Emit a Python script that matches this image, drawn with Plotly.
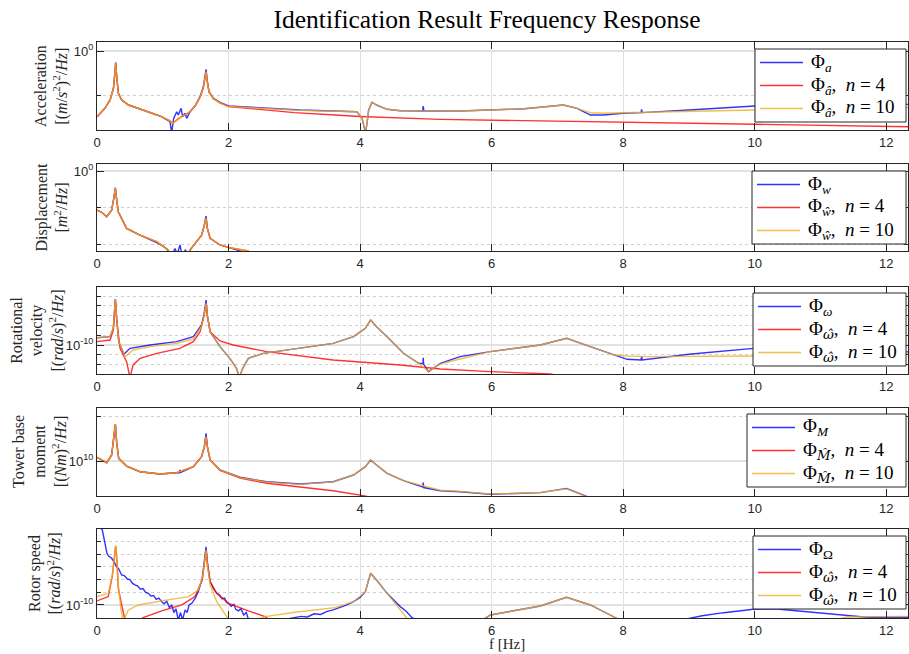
import numpy as np
import plotly.graph_objects as go

# ---------------- data (frequency in Hz, PSD as log10 value) ----------------
# Panel 1: Acceleration
acc_f_meas = [0.0, 0.12, 0.2, 0.25, 0.274, 0.284, 0.30, 0.325, 0.375, 0.48, 0.73, 0.98, 1.11, 1.135, 1.166, 1.212, 1.237, 1.278, 1.303, 1.338, 1.364, 1.414, 1.49, 1.567, 1.617, 1.643, 1.658, 1.678, 1.703, 1.769, 1.871, 2.0, 3.09, 3.95, 4.03, 4.08, 4.1, 4.13, 4.18, 4.25, 4.41, 4.61, 4.95, 4.96, 4.97, 5.52, 5.98, 6.5, 7.09, 7.3, 7.5, 7.7, 8.0, 8.27, 8.28, 8.29, 9.0, 10.0, 11.0, 12.33]
acc_meas = [-5.97, -5.21, -4.45, -3.39, -1.88, -1.06, -2.34, -3.85, -4.45, -4.91, -5.43, -5.97, -6.43, -7.4, -6.12, -5.52, -5.82, -5.21, -5.97, -5.66, -6.12, -5.52, -5.0, -4.15, -3.25, -2.18, -1.66, -2.79, -3.70, -4.30, -4.66, -5.0, -5.36, -5.52, -6.12, -7.4, -6.8, -5.36, -4.66, -4.91, -5.3, -5.43, -5.45, -5.0, -5.45, -5.45, -5.36, -5.25, -4.91, -5.21, -5.82, -5.82, -5.66, -5.6, -5.3, -5.6, -5.36, -5.0, -4.9, -4.85]
acc_f_n4 = [0.0, 0.12, 0.2, 0.25, 0.274, 0.284, 0.30, 0.325, 0.375, 0.48, 0.73, 0.98, 1.11, 1.15, 1.25, 1.414, 1.49, 1.567, 1.617, 1.643, 1.658, 1.678, 1.703, 1.769, 1.871, 2.0, 2.5, 3.0, 3.62, 4.0, 5.22, 7.0, 10.0, 12.33]
acc_n4 = [-5.97, -5.21, -4.45, -3.39, -1.88, -1.06, -2.34, -3.85, -4.45, -4.91, -5.43, -5.97, -6.35, -6.57, -6.1, -5.52, -5.0, -4.2, -3.35, -2.45, -1.88, -2.85, -3.72, -4.35, -4.72, -5.05, -5.35, -5.6, -5.82, -5.95, -6.21, -6.4, -6.66, -6.88]
acc_f_n10 = [0.0, 0.12, 0.2, 0.25, 0.274, 0.284, 0.30, 0.325, 0.375, 0.48, 0.73, 0.98, 1.11, 1.15, 1.25, 1.414, 1.49, 1.567, 1.617, 1.643, 1.658, 1.678, 1.703, 1.769, 1.871, 2.0, 3.09, 3.95, 4.03, 4.08, 4.1, 4.13, 4.18, 4.25, 4.41, 4.61, 5.52, 5.98, 6.5, 7.09, 7.3, 7.5, 7.7, 8.0, 9.0, 10.0, 12.33]
acc_n10 = [-5.97, -5.21, -4.45, -3.39, -1.88, -1.06, -2.34, -3.85, -4.45, -4.91, -5.43, -5.97, -6.35, -6.57, -6.1, -5.52, -5.0, -4.2, -3.35, -2.45, -1.88, -2.85, -3.72, -4.35, -4.72, -5.05, -5.4, -5.52, -6.12, -7.4, -6.8, -5.36, -4.66, -4.91, -5.3, -5.43, -5.45, -5.36, -5.25, -4.91, -5.21, -5.61, -5.66, -5.61, -5.48, -5.36, -5.15]

# Panel 2: Displacement
disp_f_meas = [0.0, 0.07, 0.147, 0.223, 0.259, 0.279, 0.30, 0.324, 0.45, 0.654, 0.908, 1.0, 1.07, 1.1, 1.14, 1.186, 1.22, 1.262, 1.29, 1.313, 1.345, 1.364, 1.385, 1.42, 1.45, 1.516, 1.59, 1.632, 1.658, 1.678, 1.72, 1.87, 2.02, 2.18, 2.2]
disp_meas = [-2.14, -2.26, -2.5, -2.14, -1.41, -0.92, -1.59, -2.23, -3.14, -3.51, -3.92, -4.1, -4.3, -4.6, -4.6, -4.24, -4.55, -4.05, -4.6, -4.6, -4.3, -4.6, -4.6, -4.3, -4.15, -3.87, -3.51, -2.96, -2.47, -3.14, -3.69, -4.05, -4.2, -4.38, -4.6]
disp_f_n4 = [0.0, 0.07, 0.147, 0.223, 0.259, 0.279, 0.30, 0.324, 0.45, 0.654, 0.908, 1.085, 1.12, 1.38, 1.414, 1.516, 1.59, 1.632, 1.658, 1.678, 1.72, 1.87, 2.02, 2.3, 2.35]
disp_n4 = [-2.14, -2.26, -2.5, -2.14, -1.41, -0.92, -1.59, -2.23, -3.14, -3.51, -3.87, -4.33, -4.6, -4.6, -4.33, -3.87, -3.51, -2.96, -2.59, -3.14, -3.69, -4.05, -4.2, -4.38, -4.6]
disp_f_n10 = [0.0, 0.07, 0.147, 0.223, 0.259, 0.279, 0.30, 0.324, 0.45, 0.654, 0.908, 1.085, 1.12, 1.38, 1.414, 1.516, 1.59, 1.632, 1.658, 1.678, 1.72, 1.87, 2.02, 2.3, 2.35]
disp_n10 = [-2.14, -2.26, -2.5, -2.14, -1.41, -0.92, -1.59, -2.23, -3.14, -3.51, -3.87, -4.33, -4.6, -4.6, -4.33, -3.87, -3.51, -2.96, -2.59, -3.14, -3.69, -4.05, -4.2, -4.38, -4.6]

# Panel 3: Rotational velocity
rot_f_meas = [0.0, 0.198, 0.248, 0.279, 0.299, 0.33, 0.41, 0.50, 0.806, 1.21, 1.465, 1.59, 1.63, 1.658, 1.678, 1.72, 1.87, 2.02, 2.12, 2.165, 2.215, 2.3, 2.53, 3.09, 3.59, 3.90, 4.08, 4.16, 4.25, 4.41, 4.66, 4.89, 4.955, 4.96, 4.965, 5.04, 5.17, 5.22, 5.52, 5.98, 6.74, 7.14, 7.5, 7.85, 8.06, 8.27, 8.28, 8.29, 9.0, 9.98, 11.0, 12.33]
rot_meas = [-9.26, -9.15, -8.30, -5.31, -7.27, -9.66, -10.95, -10.34, -10.0, -9.66, -9.15, -7.96, -6.77, -5.41, -6.94, -8.64, -10.17, -11.36, -12.38, -13.3, -12.38, -11.36, -10.85, -10.34, -9.83, -9.15, -8.30, -7.45, -8.13, -9.15, -10.85, -11.87, -11.9, -11.3, -11.95, -12.72, -12.11, -11.87, -11.19, -10.68, -10.0, -9.31, -10.17, -11.02, -11.46, -11.53, -11.2, -11.53, -10.95, -10.34, -10.3, -10.7]
rot_f_n4 = [0.0, 0.198, 0.248, 0.279, 0.299, 0.35, 0.45, 0.50, 0.55, 0.654, 0.91, 1.26, 1.465, 1.567, 1.63, 1.658, 1.678, 1.72, 1.87, 2.07, 2.58, 3.59, 4.61, 5.22, 5.98, 6.89, 7.0]
rot_n4 = [-9.66, -9.49, -8.5, -5.31, -7.4, -10.34, -11.7, -13.3, -12.04, -11.36, -10.85, -10.34, -9.66, -8.64, -6.94, -5.74, -7.11, -8.64, -9.59, -10.0, -10.68, -11.53, -12.04, -12.45, -12.72, -12.96, -13.1]
rot_f_n10 = [0.0, 0.198, 0.248, 0.279, 0.299, 0.33, 0.426, 0.55, 0.806, 1.21, 1.465, 1.59, 1.63, 1.658, 1.678, 1.72, 1.87, 2.02, 2.12, 2.165, 2.215, 2.3, 2.53, 3.09, 3.59, 3.90, 4.08, 4.16, 4.25, 4.41, 4.66, 4.89, 5.04, 5.17, 5.22, 5.52, 5.98, 6.74, 7.14, 7.5, 7.85, 8.06, 8.36, 9.98, 12.33]
rot_n10 = [-9.26, -9.15, -8.30, -5.31, -7.27, -9.66, -11.19, -10.51, -10.17, -9.83, -9.39, -8.1, -6.9, -5.74, -6.94, -8.64, -10.17, -11.36, -12.38, -13.3, -12.38, -11.36, -10.85, -10.34, -9.83, -9.15, -8.30, -7.45, -8.13, -9.15, -10.85, -11.87, -12.72, -12.11, -11.95, -11.43, -10.68, -10.0, -9.31, -10.17, -11.0, -11.12, -11.19, -11.12, -10.92]

# Panel 4: Tower base moment
mom_f_meas = [0.0, 0.147, 0.223, 0.259, 0.279, 0.30, 0.33, 0.45, 0.654, 0.958, 1.21, 1.255, 1.262, 1.27, 1.465, 1.59, 1.632, 1.658, 1.678, 1.72, 1.87, 2.175, 2.58, 3.09, 3.59, 3.9, 4.08, 4.16, 4.25, 4.41, 4.66, 4.955, 4.96, 4.965, 5.22, 5.52, 5.98, 6.74, 7.14, 7.4, 7.5]
mom_meas = [10.41, 9.81, 10.67, 12.70, 14.11, 11.96, 10.3, 9.44, 8.81, 8.56, 8.70, 8.72, 9.0, 8.72, 9.37, 10.48, 11.59, 13.08, 11.59, 10.11, 9.0, 8.19, 7.70, 7.44, 7.70, 8.44, 9.37, 10.11, 9.56, 8.63, 7.81, 7.1, 7.6, 7.05, 6.70, 6.59, 6.30, 6.48, 6.96, 6.22, 5.9]
mom_f_n4 = [0.0, 0.147, 0.223, 0.259, 0.279, 0.30, 0.33, 0.45, 0.654, 0.958, 1.21, 1.465, 1.59, 1.632, 1.658, 1.678, 1.72, 1.87, 2.175, 2.58, 3.09, 3.59, 4.05, 4.2]
mom_n4 = [10.41, 9.81, 10.67, 12.70, 14.11, 11.96, 10.3, 9.44, 8.81, 8.56, 8.70, 9.37, 10.48, 11.59, 12.70, 11.59, 10.11, 8.95, 8.1, 7.52, 7.1, 6.70, 6.15, 5.9]
mom_f_n10 = [0.0, 0.147, 0.223, 0.259, 0.279, 0.30, 0.33, 0.45, 0.654, 0.958, 1.21, 1.465, 1.59, 1.632, 1.658, 1.678, 1.72, 1.87, 2.175, 2.58, 3.09, 3.59, 3.9, 4.08, 4.16, 4.25, 4.41, 4.66, 5.22, 5.52, 5.98, 6.74, 7.14, 7.4, 7.45]
mom_n10 = [10.41, 9.81, 10.67, 12.70, 14.11, 11.96, 10.3, 9.44, 8.81, 8.56, 8.70, 9.37, 10.48, 11.59, 12.70, 11.59, 10.11, 9.0, 8.15, 7.65, 7.40, 7.68, 8.44, 9.37, 10.11, 9.56, 8.63, 7.81, 6.75, 6.62, 6.33, 6.5, 6.9, 6.15, 5.9]

# Panel 5: Rotor speed
rs_f_meas = [0.0, 0.03, 0.081, 0.122, 0.15, 0.172, 0.223, 0.26, 0.299, 0.33,
             0.375, 0.42, 0.46, 0.5, 0.54, 0.578, 0.62, 0.66, 0.7, 0.74,
             0.78, 0.82, 0.86, 0.9, 0.94, 0.984, 1.02, 1.06, 1.1, 1.136,
             1.17, 1.2, 1.237, 1.27, 1.3, 1.34, 1.37, 1.4, 1.44, 1.49,
             1.54, 1.60, 1.632, 1.658, 1.678, 1.72, 1.77, 1.82, 1.86, 1.9,
             1.94, 1.97, 2.0, 2.04, 2.08, 2.11, 2.15, 2.19, 2.23, 2.27,
             2.30, 2.35, 2.6, 2.94, 3.1, 3.2, 3.3, 3.4, 3.5, 3.59,
             3.7, 3.8, 3.9, 4.0, 4.08, 4.16, 4.25, 4.41, 4.5, 4.61,
             4.7, 4.79, 4.9, 5.83, 5.98, 6.74, 7.14, 7.5, 7.9, 8.0,
             8.97, 9.2, 9.53, 9.98, 10.3, 10.64, 11.3, 11.7, 12.33]
rs_meas = [-3.5, -3.75, -4.08, -5.13, -5.9, -6.11, -6.31, -6.6, -6.98, -7.15,
           -7.63, -7.7, -7.95, -8.0, -8.3, -8.42, -8.5, -8.75, -8.7, -9.0,
           -9.08, -9.3, -9.25, -9.55, -9.45, -9.74, -9.9, -9.7, -10.2, -10.0,
           -10.6, -10.3, -11.2, -10.6, -11.2, -10.39, -10.6, -10.0, -9.87, -9.5,
           -8.95, -7.89, -6.58, -5.40, -6.58, -8.16, -8.7, -9.08, -9.2, -9.5,
           -9.45, -9.8, -9.87, -10.1, -9.95, -10.35, -10.47, -10.3, -10.8, -10.6,
           -11.1, -11.2, -11.4, -11.1, -10.9, -10.95, -10.7, -10.75, -10.5, -10.39,
           -10.2, -10.0, -9.74, -9.4, -8.95, -7.50, -8.03, -9.08, -9.55, -10.13,
           -10.5, -11.0, -11.3, -11.3, -10.79, -10.08, -9.39, -10.0, -11.05, -11.3,
           -11.1, -10.85, -10.61, -10.34, -10.3, -10.45, -10.79, -10.97, -10.97]
rs_f_n4 = [0.0, 0.172, 0.233, 0.264, 0.284, 0.304, 0.324, 0.375, 0.43, 0.6, 0.7, 0.984, 1.29, 1.49, 1.60, 1.632, 1.658, 1.678, 1.72, 1.82, 2.0, 2.30, 2.555, 2.65]
rs_n4 = [-9.68, -9.34, -7.7, -6.05, -5.32, -6.58, -8.68, -10.0, -11.3, -11.5, -11.0, -10.47, -10.0, -9.34, -8.03, -6.71, -5.66, -6.84, -8.16, -9.08, -9.87, -10.47, -10.92, -11.3]
rs_f_n10 = [0.0, 0.172, 0.233, 0.264, 0.284, 0.304, 0.324, 0.365, 0.40, 0.477,
            0.63, 0.984, 1.39, 1.54, 1.60, 1.632, 1.658, 1.678, 1.72, 1.82,
            1.92, 2.02, 2.3, 2.555, 3.01, 3.62, 3.9, 4.08, 4.16, 4.25,
            4.41, 4.61, 4.72, 4.9, 5.83, 5.98, 6.74, 7.14, 7.5, 7.9,
            8.0, 11.2, 11.4, 11.8, 12.33]
rs_n10 = [-9.34, -9.08, -7.63, -6.05, -5.32, -6.58, -8.42, -10.39, -11.3, -10.39,
          -10.0, -9.68, -9.34, -8.82, -7.89, -6.71, -5.66, -6.84, -8.42, -9.74,
          -10.53, -11.3, -11.4, -10.92, -10.58, -10.21, -9.74, -8.95, -7.50, -8.03,
          -9.08, -10.35, -11.1, -11.4, -11.3, -10.79, -10.08, -9.39, -10.0, -11.05,
          -11.3, -11.2, -10.95, -10.92, -10.9]

# legend labels
NB = "\u00a0"
HAT = lambda s: "<span style='font-family:DejaVu Serif'><i>" + s + "\u0302</i></span>"
N4 = "," + NB + NB + "<i>n</i>" + NB + "=" + NB + "4"
N10 = "," + NB + NB + "<i>n</i>" + NB + "=" + NB + "10"
leg_acc = ["Φ<sub><i>a</i></sub>", "Φ<sub><i>â</i></sub>" + N4, "Φ<sub><i>â</i></sub>" + N10]
leg_disp = ["Φ<sub><i>w</i></sub>", "Φ<sub><i>ŵ</i></sub>" + N4, "Φ<sub><i>ŵ</i></sub>" + N10]
leg_rot = ["Φ<sub><i>ω</i></sub>", "Φ<sub>" + HAT("ω") + "</sub>" + N4, "Φ<sub>" + HAT("ω") + "</sub>" + N10]
leg_mom = ["Φ<sub><i>M</i></sub>", "Φ<sub>" + HAT("M") + "</sub>" + N4, "Φ<sub>" + HAT("M") + "</sub>" + N10]
leg_rs = ["Φ<sub>Ω</sub>", "Φ<sub>" + HAT("ω") + "</sub>" + N4, "Φ<sub>" + HAT("ω") + "</sub>" + N10]

ylabels = [
    "Acceleration<br>[(<i>m</i>/<i>s</i><sup>2</sup>)<sup>2</sup>/<i>Hz</i>]",
    "Displacement<br>[<i>m</i><sup>2</sup>/<i>Hz</i>]",
    "Rotational<br>velocity<br>[(<i>rad</i>/<i>s</i>)<sup>2</sup>/<i>Hz</i>]",
    "Tower base<br>moment<br>[(<i>Nm</i>)<sup>2</sup>/<i>Hz</i>]",
    "Rotor speed<br>[(<i>rad</i>/<i>s</i>)<sup>2</sup>/<i>Hz</i>]",
]
xticks = [0, 2, 4, 6, 8, 10, 12]

# ---------------- figure ----------------
W, H = 909, 654
ML, MR, MT, MB = 97, 1, 42, 36
PW, PH = W - ML - MR, H - MT - MB
px_top = [42, 164, 287, 408, 529]
px_bot = [130, 251, 374, 496, 618]
leg_top = [49, 171, 293, 414, 536]
leg_left = [755, 752, 753, 747, 753]
label_x = [52, 52, 37, 40, 45]

def py2paper(py):
    return (H - MB - py) / PH

def px2paper(px):
    return (px - ML) / PW

yconf = [
    dict(range=[-7.18, 0.818], tv=[1e0], tt=["10<sup>0</sup>"], minor=[1e-4]),
    dict(range=[-4.38, 0.384], tv=[1e0], tt=["10<sup>0</sup>"], minor=[1e-2, 1e-4]),
    dict(range=[-12.96, -4.08], tv=[1e-10], tt=["10<sup>-10</sup>"],
         minor=[1e-12, 1e-11, 1e-9, 1e-8, 1e-7, 1e-6, 1e-5]),
    dict(range=[6.11, 15.89], tv=[1e10], tt=["10<sup>10</sup>"], minor=[1e15]),
    dict(range=[-11.03, -4.0], tv=[1e-10], tt=["10<sup>-10</sup>"],
         minor=[1e-9, 1e-8, 1e-7, 1e-6, 1e-5]),
]

panels = [
    (acc_f_meas, acc_meas, acc_f_n4, acc_n4, acc_f_n10, acc_n10, leg_acc),
    (disp_f_meas, disp_meas, disp_f_n4, disp_n4, disp_f_n10, disp_n10, leg_disp),
    (rot_f_meas, rot_meas, rot_f_n4, rot_n4, rot_f_n10, rot_n10, leg_rot),
    (mom_f_meas, mom_meas, mom_f_n4, mom_n4, mom_f_n10, mom_n10, leg_mom),
    (rs_f_meas, rs_meas, rs_f_n4, rs_n4, rs_f_n10, rs_n10, leg_rs),
]

COLORS = ["#0000FF", "#FF0000", "#EDB120"]
OPAC = 0.8
LW = 1.4
AX = "#262626"
GRID = "#E1E1E1"
MINOR_GRID = "#CFCFCF"
SERIF = "Liberation Serif"
SANS = "Liberation Sans"

fig = go.Figure()
layout = dict(
    width=W, height=H,
    margin=dict(l=ML, r=MR, t=MT, b=MB, pad=0),
    paper_bgcolor="white", plot_bgcolor="white",
    showlegend=False,
    title=dict(text="Identification Result Frequency Response",
               font=dict(family=SERIF, size=25.5, color="black"),
               x=487 / W, xref="container", xanchor="center",
               y=1 - 19 / H, yref="container", yanchor="middle"),
    annotations=[], shapes=[],
)

for i, (fm, ym, f4, y4, f10, y10, names) in enumerate(panels):
    k = "" if i == 0 else str(i + 1)
    for (fx, yy, col, nm) in [(fm, ym, COLORS[0], names[0]),
                              (f4, y4, COLORS[1], names[1]),
                              (f10, y10, COLORS[2], names[2])]:
        assert len(fx) == len(yy), (nm, len(fx), len(yy))
        fig.add_trace(go.Scatter(
            x=fx, y=10 ** np.array(yy, dtype=float), mode="lines",
            line=dict(color=col, width=LW), opacity=OPAC,
            name=nm, xaxis="x" + k, yaxis="y" + k, hoverinfo="skip"))
    dom = [py2paper(px_bot[i]), py2paper(px_top[i])]
    layout["xaxis" + k] = dict(
        domain=[0, 1], anchor="y" + k, range=[0, 12.33],
        tickmode="array", tickvals=xticks, ticktext=[str(t) for t in xticks],
        ticks="inside", ticklen=7, tickcolor=AX, tickwidth=1,
        showline=True, linecolor=AX, linewidth=1, mirror="ticks",
        showgrid=True, gridcolor=GRID, gridwidth=1, zeroline=False,
        tickfont=dict(family=SANS, size=13, color=AX))
    c = yconf[i]
    layout["yaxis" + k] = dict(
        domain=dom, anchor="x" + k, type="log", range=c["range"],
        tickmode="array", tickvals=c["tv"], ticktext=c["tt"],
        ticks="inside", ticklen=7, tickcolor=AX, tickwidth=1,
        showline=True, linecolor=AX, linewidth=1, mirror="ticks",
        showgrid=True, gridcolor=GRID, gridwidth=1.5, zeroline=False,
        tickfont=dict(family=SANS, size=13, color=AX),
        minor=dict(tickmode="array", tickvals=c["minor"], ticks="inside", ticklen=4,
                   tickcolor=AX, showgrid=True, gridcolor=MINOR_GRID,
                   griddash="dot", gridwidth=1))
    # legend box (drawn in paper coordinates)
    top, left = leg_top[i], leg_left[i]
    layout["shapes"].append(dict(
        type="rect", xref="paper", yref="paper", layer="above",
        x0=px2paper(left), x1=px2paper(906), y0=py2paper(top + 73), y1=py2paper(top),
        line=dict(color=AX, width=1), fillcolor="white"))
    for j, off in enumerate([13.5, 36.5, 59.5]):
        yy = py2paper(top + off)
        layout["shapes"].append(dict(
            type="line", xref="paper", yref="paper", layer="above",
            x0=px2paper(left + 5), x1=px2paper(left + 48), y0=yy, y1=yy,
            line=dict(color=COLORS[j], width=LW), opacity=OPAC))
        layout["annotations"].append(dict(
            text=names[j], showarrow=False, xref="paper", yref="paper",
            x=px2paper(left + 54), y=yy, xanchor="left", yanchor="middle",
            font=dict(family=SERIF, size=19, color="black")))
    layout["annotations"].append(dict(
        text=ylabels[i], textangle=-90, showarrow=False,
        xref="paper", yref="paper",
        x=px2paper(label_x[i]), y=(dom[0] + dom[1]) / 2,
        xanchor="center", yanchor="middle",
        font=dict(family=SERIF, size=16, color=AX)))

layout["annotations"].append(dict(
    text="f [Hz]", showarrow=False, xref="paper", yref="paper",
    x=px2paper(507), y=py2paper(644), xanchor="center", yanchor="middle",
    font=dict(family=SERIF, size=15, color=AX)))

fig.update_layout(**layout)
fig.write_html("out.html")
